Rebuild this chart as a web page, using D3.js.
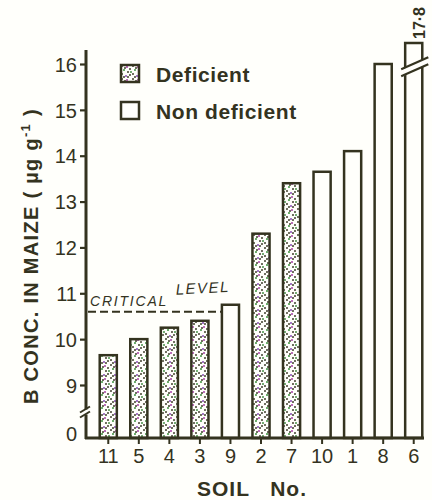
<!DOCTYPE html>
<html>
<head>
<meta charset="utf-8">
<script src="https://cdn.jsdelivr.net/npm/d3@7"></script>
<style>
  html, body { margin: 0; padding: 0; background: #fffffb; }
  svg { display: block; }
  text { font-family: "Liberation Sans", Arial, sans-serif; fill: #34331f; }
</style>
</head>
<body>
<svg id="chart" width="432" height="500"></svg>
<script>
// ---- data ----
const categories = ["11", "5", "4", "3", "9", "2", "7", "10", "1", "8", "6"];
const values = [9.65, 10.0, 10.25, 10.4, 10.75, 12.3, 13.4, 13.65, 14.1, 16.0, 17.8];
const groups = ["Deficient", "Deficient", "Deficient", "Deficient", "Non deficient",
                "Deficient", "Deficient", "Non deficient", "Non deficient", "Non deficient", "Non deficient"];
const legendLabels = ["Deficient", "Non deficient"];
const yTickValues = [0, 9, 10, 11, 12, 13, 14, 15, 16];
const criticalLevel = 10.6;
const brokenBarValue = 17.8;

const ink = "#34331f";
const svg = d3.select("#chart");

// stipple pattern
const defs = svg.append("defs");
const pat = defs.append("pattern").attr("id", "stipple")
  .attr("patternUnits", "userSpaceOnUse").attr("width", 11).attr("height", 13);
pat.append("rect").attr("width", 11).attr("height", 13).attr("fill", "#fffffb");
const dots = [[1,1,ink],[6,2,"#a030a0"],[9,4,ink],[3,5,"#308a30"],[7,7,ink],[1,9,ink],
              [5,11,"#8040b0"],[9,10,ink],[4,3,ink],[10,7,"#3a8a3a"],[3,12,ink],[7,12,ink]];
dots.forEach(d => pat.append("circle").attr("cx", d[0]).attr("cy", d[1]).attr("r", 0.95).attr("fill", d[2]));

// scales (broken axis: 0..9 compressed, 16..17.8 compressed)
const x = d3.scaleBand().domain(categories).range([93, 429]).paddingInner(0.44).paddingOuter(0.22);
const y = d3.scaleLinear().domain([0, 9, 16, brokenBarValue]).range([438, 385, 64, 43]);

// bars
const data = categories.map((c, i) => ({ c, v: values[i], g: groups[i] }));
svg.append("g").selectAll("rect").data(data).join("rect")
  .attr("x", d => x(d.c))
  .attr("y", d => y(d.v))
  .attr("width", x.bandwidth())
  .attr("height", d => y(0) - y(d.v))
  .attr("fill", d => d.g === "Deficient" ? "url(#stipple)" : "#fffffb")
  .attr("stroke", ink).attr("stroke-width", 2.5);

// break on tall bar
const bx0 = x("6"), bx1 = x("6") + x.bandwidth();
const yb = y(16.4);
svg.append("polygon")
  .attr("points", `${bx0-2},${yb+10} ${bx1+4},${yb-2} ${bx1+4},${yb+5} ${bx0-2},${yb+17}`)
  .attr("fill", "#fffffb");
[0, 7].forEach(o => svg.append("line")
  .attr("x1", bx0 - 4).attr("y1", yb + 10 + o).attr("x2", bx1 + 6).attr("y2", yb - 2 + o)
  .attr("stroke", ink).attr("stroke-width", 2.2));
svg.append("text")
  .attr("transform", `translate(${bx0 + x.bandwidth()/2 + 6},${y(brokenBarValue) - 20}) rotate(-90)`)
  .attr("text-anchor", "middle").attr("dy", "0.35em")
  .attr("font-size", 16).attr("font-weight", "bold").text("17·8");

// critical level
svg.append("line")
  .attr("x1", 88).attr("x2", x("9"))
  .attr("y1", y(criticalLevel)).attr("y2", y(criticalLevel))
  .attr("stroke", ink).attr("stroke-width", 2).attr("stroke-dasharray", "8,4");
svg.append("text").attr("x", 90).attr("y", y(criticalLevel) - 6)
  .attr("font-size", 14).attr("font-style", "italic").attr("letter-spacing", 1.8)
  .text("CRITICAL");
svg.append("text").attr("transform", `translate(176,${y(criticalLevel) - 17}) rotate(-3)`)
  .attr("font-size", 15).attr("font-style", "italic").attr("letter-spacing", 1.5)
  .text("LEVEL");

// y axis
const yAxis = svg.append("g").attr("transform", "translate(86,0)")
  .call(d3.axisLeft(y).tickValues(yTickValues).tickSize(6).tickPadding(3).tickFormat(d3.format("d")));
yAxis.select(".domain").remove();
yAxis.selectAll(".tick line").attr("stroke", ink).attr("stroke-width", 2.2);
yAxis.selectAll(".tick text").attr("font-size", 20).attr("fill", ink)
  .attr("font-family", "'Liberation Sans Narrow', 'Liberation Sans', sans-serif")
  .attr("dy", "0.36em");
yAxis.selectAll(".tick").filter(d => d === 0).select("text").attr("dy", "0.1em");
yAxis.selectAll(".tick").filter(d => d === 0).select("line").remove();
svg.append("line").attr("x1", 86).attr("x2", 86).attr("y1", 50).attr("y2", y(0) + 1)
  .attr("stroke", ink).attr("stroke-width", 3);
// axis break marks
const ybr = (y(0) + y(9)) / 2 + 1;
svg.append("rect").attr("x", 83).attr("y", ybr - 3).attr("width", 6).attr("height", 5).attr("fill", "#fffffb");
[-3, 2].forEach(o => svg.append("line")
  .attr("x1", 80).attr("y1", ybr + o + 3).attr("x2", 90).attr("y2", ybr + o - 3)
  .attr("stroke", ink).attr("stroke-width", 2));

// x axis
const xAxis = svg.append("g").attr("transform", `translate(0,${y(0)})`)
  .call(d3.axisBottom(x).tickSize(6).tickPadding(5));
xAxis.select(".domain").remove();
xAxis.selectAll(".tick line").attr("stroke", ink).attr("stroke-width", 2);
xAxis.selectAll(".tick text").attr("font-size", 20).attr("fill", ink)
  .attr("font-family", "'Liberation Sans Narrow', 'Liberation Sans', sans-serif");
svg.append("line").attr("x1", 85).attr("x2", 424).attr("y1", y(0)).attr("y2", y(0))
  .attr("stroke", ink).attr("stroke-width", 2.8);

// axis titles
svg.append("text").attr("x", 252).attr("y", 496).attr("text-anchor", "middle")
  .attr("font-size", 21).attr("font-weight", "bold").attr("letter-spacing", 1)
  .attr("xml:space", "preserve").text("SOIL   No.");
const yt = svg.append("text").attr("transform", "translate(38,256) rotate(-90)")
  .attr("text-anchor", "middle").attr("font-size", 20).attr("font-weight", "bold")
  .attr("letter-spacing", 1.3).attr("xml:space", "preserve");
yt.append("tspan").text("B CONC. IN MAIZE ( µg g");
yt.append("tspan").attr("font-size", 13).attr("dy", -8).text("-1");
yt.append("tspan").attr("dy", 8).text(" )");

// legend
const lg = svg.append("g");
legendLabels.forEach((lab, i) => {
  const yy = 82 + i * 37;
  lg.append("rect").attr("x", 121).attr("y", yy - 17).attr("width", 18).attr("height", 17)
    .attr("fill", i === 0 ? "url(#stipple)" : "#fffffb").attr("stroke", ink).attr("stroke-width", 2.5);
  lg.append("text").attr("x", 156).attr("y", yy).attr("font-size", 21).attr("font-weight", "bold")
    .attr("letter-spacing", 0.6).text(lab);
});
</script>
</body>
</html>
